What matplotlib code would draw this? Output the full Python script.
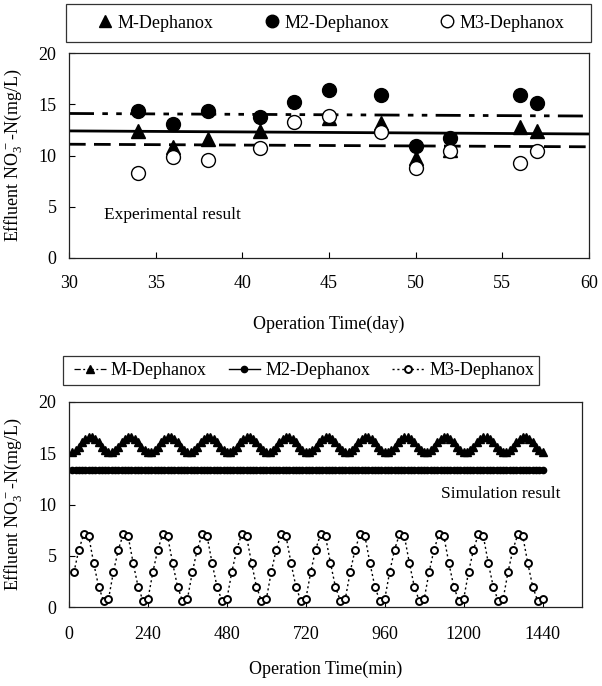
import matplotlib
matplotlib.use('Agg')
import matplotlib.pyplot as plt
from matplotlib.patches import Rectangle

plt.rcParams['font.family'] = ['Liberation Serif', 'DejaVu Serif']
plt.rcParams['mathtext.fontset'] = 'custom'
plt.rcParams['mathtext.rm'] = 'Liberation Serif'
plt.rcParams['mathtext.it'] = 'Liberation Serif:italic'

# ---------------- Experimental data (top panel) ----------------
exp_days_m = [34, 36, 38, 41, 45, 48, 50, 52, 56, 57]
exp_m = [12.4, 10.8, 11.6, 12.4, 13.7, 13.2, 9.8, 10.5, 12.8, 12.4]
exp_days = [34, 36, 38, 41, 43, 45, 48, 50, 52, 56, 57]
exp_m2 = [14.3, 13.1, 14.3, 13.8, 15.2, 16.4, 15.9, 10.9, 11.7, 15.9, 15.1]
exp_m3 = [8.3, 9.9, 9.6, 10.7, 13.3, 13.9, 12.3, 8.8, 10.4, 9.3, 10.4]
trend_days = [30, 60]
trend_m = [12.4, 12.1]
trend_m2 = [14.1, 13.85]
trend_m3 = [11.1, 10.85]

# ---------------- Simulation data (bottom panel) ----------------
sim_time_10 = list(range(10, 1441, 10))
sim_m = [
    15.1, 15.3, 15.65, 16.05, 16.4, 16.6, 16.6, 16.4, 16.05, 15.65, 15.3, 15.1,
    15.1, 15.3, 15.65, 16.05, 16.4, 16.6, 16.6, 16.4, 16.05, 15.65, 15.3, 15.1,
    15.1, 15.3, 15.65, 16.05, 16.4, 16.6, 16.6, 16.4, 16.05, 15.65, 15.3, 15.1,
    15.1, 15.3, 15.65, 16.05, 16.4, 16.6, 16.6, 16.4, 16.05, 15.65, 15.3, 15.1,
    15.1, 15.3, 15.65, 16.05, 16.4, 16.6, 16.6, 16.4, 16.05, 15.65, 15.3, 15.1,
    15.1, 15.3, 15.65, 16.05, 16.4, 16.6, 16.6, 16.4, 16.05, 15.65, 15.3, 15.1,
    15.1, 15.3, 15.65, 16.05, 16.4, 16.6, 16.6, 16.4, 16.05, 15.65, 15.3, 15.1,
    15.1, 15.3, 15.65, 16.05, 16.4, 16.6, 16.6, 16.4, 16.05, 15.65, 15.3, 15.1,
    15.1, 15.3, 15.65, 16.05, 16.4, 16.6, 16.6, 16.4, 16.05, 15.65, 15.3, 15.1,
    15.1, 15.3, 15.65, 16.05, 16.4, 16.6, 16.6, 16.4, 16.05, 15.65, 15.3, 15.1,
    15.1, 15.3, 15.65, 16.05, 16.4, 16.6, 16.6, 16.4, 16.05, 15.65, 15.3, 15.1,
    15.1, 15.3, 15.65, 16.05, 16.4, 16.6, 16.6, 16.4, 16.05, 15.65, 15.3, 15.1,
]
sim_m2 = [
    13.4, 13.4, 13.4, 13.4, 13.4, 13.4, 13.4, 13.4, 13.4, 13.4, 13.4, 13.4,
    13.4, 13.4, 13.4, 13.4, 13.4, 13.4, 13.4, 13.4, 13.4, 13.4, 13.4, 13.4,
    13.4, 13.4, 13.4, 13.4, 13.4, 13.4, 13.4, 13.4, 13.4, 13.4, 13.4, 13.4,
    13.4, 13.4, 13.4, 13.4, 13.4, 13.4, 13.4, 13.4, 13.4, 13.4, 13.4, 13.4,
    13.4, 13.4, 13.4, 13.4, 13.4, 13.4, 13.4, 13.4, 13.4, 13.4, 13.4, 13.4,
    13.4, 13.4, 13.4, 13.4, 13.4, 13.4, 13.4, 13.4, 13.4, 13.4, 13.4, 13.4,
    13.4, 13.4, 13.4, 13.4, 13.4, 13.4, 13.4, 13.4, 13.4, 13.4, 13.4, 13.4,
    13.4, 13.4, 13.4, 13.4, 13.4, 13.4, 13.4, 13.4, 13.4, 13.4, 13.4, 13.4,
    13.4, 13.4, 13.4, 13.4, 13.4, 13.4, 13.4, 13.4, 13.4, 13.4, 13.4, 13.4,
    13.4, 13.4, 13.4, 13.4, 13.4, 13.4, 13.4, 13.4, 13.4, 13.4, 13.4, 13.4,
    13.4, 13.4, 13.4, 13.4, 13.4, 13.4, 13.4, 13.4, 13.4, 13.4, 13.4, 13.4,
    13.4, 13.4, 13.4, 13.4, 13.4, 13.4, 13.4, 13.4, 13.4, 13.4, 13.4, 13.4,
]
sim_time_15 = list(range(15, 1441, 15))
sim_m3 = [
    3.4, 5.6, 7.1, 6.9, 4.3, 2.0, 0.6, 0.75,
    3.4, 5.6, 7.1, 6.9, 4.3, 2.0, 0.6, 0.75,
    3.4, 5.6, 7.1, 6.9, 4.3, 2.0, 0.6, 0.75,
    3.4, 5.6, 7.1, 6.9, 4.3, 2.0, 0.6, 0.75,
    3.4, 5.6, 7.1, 6.9, 4.3, 2.0, 0.6, 0.75,
    3.4, 5.6, 7.1, 6.9, 4.3, 2.0, 0.6, 0.75,
    3.4, 5.6, 7.1, 6.9, 4.3, 2.0, 0.6, 0.75,
    3.4, 5.6, 7.1, 6.9, 4.3, 2.0, 0.6, 0.75,
    3.4, 5.6, 7.1, 6.9, 4.3, 2.0, 0.6, 0.75,
    3.4, 5.6, 7.1, 6.9, 4.3, 2.0, 0.6, 0.75,
    3.4, 5.6, 7.1, 6.9, 4.3, 2.0, 0.6, 0.75,
    3.4, 5.6, 7.1, 6.9, 4.3, 2.0, 0.6, 0.75,
]

series_names = ['M-Dephanox', 'M2-Dephanox', 'M3-Dephanox']
exp_xticks = [30, 35, 40, 45, 50, 55, 60]
sim_xticks = [0, 240, 480, 720, 960, 1200, 1440]
yticks = [0, 5, 10, 15, 20]

W, H = 602, 686
fig = plt.figure(figsize=(W / 100, H / 100), dpi=100)

def box(l, t, r, b):
    return [l / W, 1 - b / H, (r - l) / W, (b - t) / H]

def frame(l, t, r, b):
    fig.patches.append(Rectangle((l / W, 1 - b / H), (r - l) / W, (b - t) / H,
                                 transform=fig.transFigure, fill=False,
                                 edgecolor='#333333', linewidth=0.9))

FS = 13
ylab = r'Effluent NO$_{3}^{\,-}$-N(mg/L)'

def style(ax, pad_x):
    for s in ax.spines.values():
        s.set_linewidth(0.9)
        s.set_color('#222222')
    ax.tick_params(direction='in', length=4, width=0.8, labelsize=FS,
                   top=False, right=False)
    ax.tick_params(axis='x', pad=pad_x)
    ax.tick_params(axis='y', pad=9)

# ---------------- Top panel ----------------
ax1 = fig.add_axes(box(69, 53, 589, 258))
ax1.plot(trend_days, trend_m2, color='black', lw=2.0, dashes=[9, 3, 2, 3, 2, 3])
ax1.plot(trend_days, trend_m, color='black', lw=2.0, ls='-')
ax1.plot(trend_days, trend_m3, color='black', lw=2.0, dashes=[6, 3])
h1, = ax1.plot(exp_days_m, exp_m, ls='none', marker='^', ms=10, color='black',
               label=series_names[0])
h2, = ax1.plot(exp_days, exp_m2, ls='none', marker='o', ms=10, color='black',
               label=series_names[1])
h3, = ax1.plot(exp_days, exp_m3, ls='none', marker='o', ms=10, mfc='white',
               mec='black', mew=1.0, label=series_names[2])
ax1.set_xlim(30, 60)
ax1.set_ylim(0, 20)
ax1.set_xticks(exp_xticks)
ax1.set_yticks(yticks)
style(ax1, 12)
ax1.set_xlabel('Operation Time(day)', fontsize=FS)
ax1.xaxis.set_label_coords(0.5, -0.28)
ax1.set_ylabel(ylab, fontsize=FS)
ax1.yaxis.set_label_coords(-0.0865, 0.5)
ax1.text(32, 4.2, 'Experimental result', fontsize=12.5, va='center', ha='left')

frame(66, 4, 591, 42)
fig.legend(handles=[h1, h2, h3], loc='center left',
           bbox_to_anchor=(98 / W, 1 - 23 / H), ncol=3,
           fontsize=FS, frameon=False, borderpad=0, borderaxespad=0,
           handlelength=0.8, handletextpad=0.3, columnspacing=2.8,
           markerscale=0.9)

# ---------------- Bottom panel ----------------
ax2 = fig.add_axes(box(69, 402, 582, 607))
g1, = ax2.plot(sim_time_10, sim_m, color='black', lw=0.9, dashes=[5, 2, 1.5, 2],
               marker='^', ms=5.5, label=series_names[0])
g2, = ax2.plot(sim_time_10, sim_m2, color='black', lw=1.0, ls='-',
               marker='o', ms=4.5, label=series_names[1])
g3, = ax2.plot(sim_time_15, sim_m3, color='black', lw=1.0, ls=(0, (1.5, 2)),
               marker='o', ms=5, mfc='white', mec='black', mew=1.4,
               label=series_names[2])
ax2.set_xlim(0, 1560)
ax2.set_ylim(0, 20)
ax2.set_xticks(sim_xticks)
ax2.set_yticks(yticks)
style(ax2, 14)
ax2.set_xlabel('Operation Time(min)', fontsize=FS)
ax2.xaxis.set_label_coords(0.5, -0.263)
ax2.set_ylabel(ylab, fontsize=FS)
ax2.yaxis.set_label_coords(-0.0877, 0.5)
ax2.text(1130, 11.0, 'Simulation result', fontsize=12.5, va='center', ha='left')

frame(63, 356, 539, 385)
fig.legend(handles=[g1, g2, g3], loc='center left',
           bbox_to_anchor=(74 / W, 1 - 370.5 / H), ncol=3,
           fontsize=FS, frameon=False, borderpad=0, borderaxespad=0,
           handlelength=1.75, handletextpad=0.3, columnspacing=1.2)

fig.savefig('out.png', dpi=100)
